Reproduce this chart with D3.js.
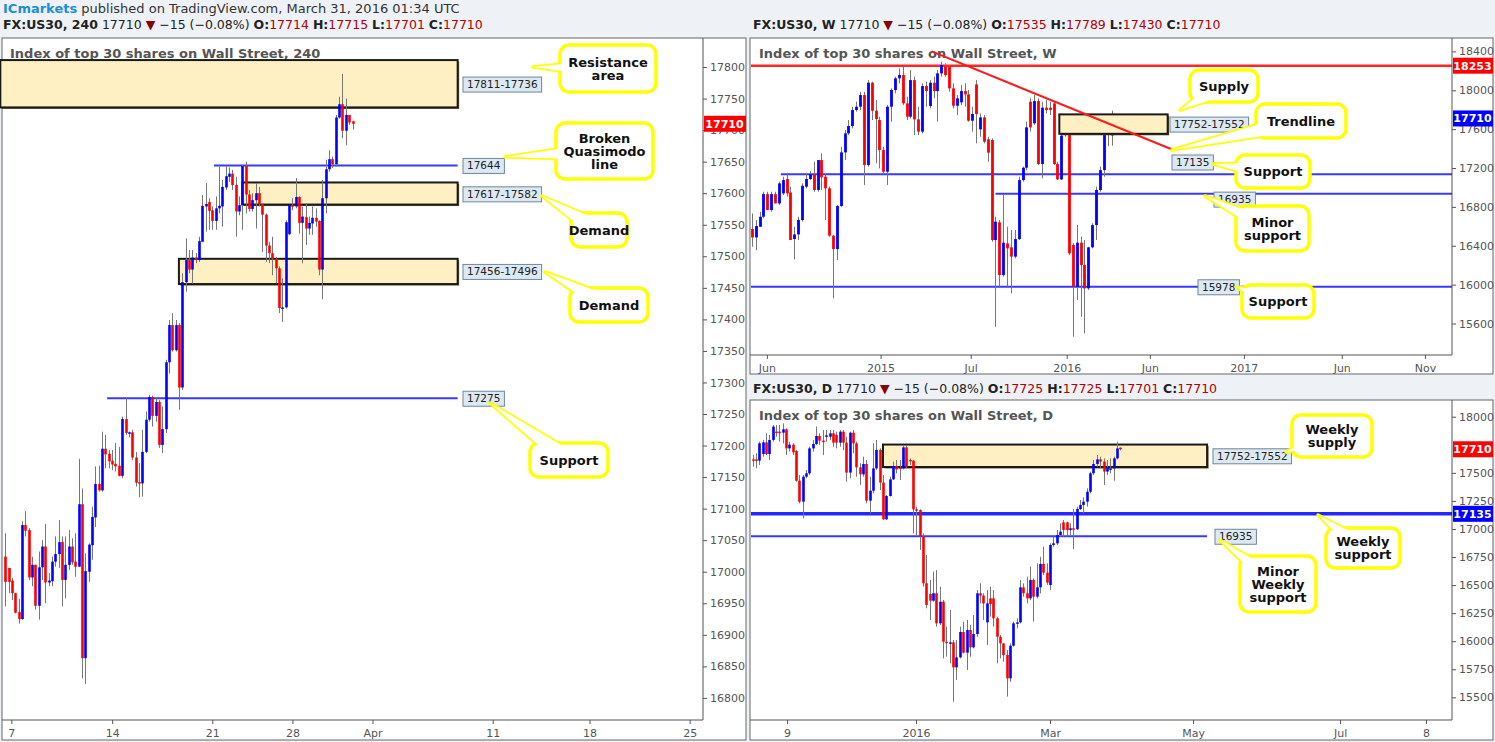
<!DOCTYPE html>
<html><head><meta charset="utf-8">
<script src="https://cdn.jsdelivr.net/npm/d3@7"></script>
<style>
body{margin:0;background:#eef2f6;font-family:"DejaVu Sans",sans-serif;}
svg text{font-family:"DejaVu Sans",sans-serif;}
</style></head>
<body><svg id="c" width="1495" height="742"></svg>
<script>
// 240 candles [open, high, low, close]
var h4Rows = [
[17024,17061,16945,16984],[17006,17006,16966,16984],[16986,16990,16955,16966],[16966,16966,16934,16935],[16936,16957,16918,16925],
[16925,17080,16924,17074],[17074,17096,17056,17065],[17066,17069,16987,16991],[16991,17024,16977,17011],[17011,17011,16940,16946],
[16946,17032,16924,17007],[17007,17050,16987,17040],[17040,17076,16950,16983],[16983,16998,16977,16986],[16985,17024,16977,17016],
[17016,17056,17008,17028],[17028,17082,17006,17047],[17047,17056,16945,16987],[16987,17056,16958,17011],[17011,17066,17003,17040],
[17040,17053,17011,17015],[17016,17061,16992,17008],[17008,17179,17008,17107],[17107,17132,16831,16863],[16863,17029,16822,17001],
[17000,17045,16984,17043],[17042,17103,17019,17087],[17086,17167,17071,17139],[17139,17168,17127,17129],[17129,17222,17127,17195],
[17195,17217,17164,17186],[17187,17193,17164,17175],[17176,17193,17161,17170],[17171,17204,17159,17167],[17168,17198,17151,17152],
[17152,17246,17148,17242],[17242,17275,17217,17220],[17220,17222,17213,17221],[17221,17225,17177,17181],[17181,17190,17135,17141],
[17142,17172,17118,17140],[17140,17225,17119,17190],[17190,17254,17188,17241],[17241,17280,17238,17277],[17277,17279,17230,17247],
[17247,17275,17238,17269],[17269,17272,17196,17201],[17201,17262,17188,17226],[17226,17336,17220,17332],[17332,17399,17314,17391],
[17391,17410,17349,17351],[17351,17399,17349,17391],[17391,17394,17257,17292],[17292,17473,17288,17459],[17459,17528,17444,17494],
[17494,17510,17473,17479],[17479,17510,17457,17498],[17498,17505,17489,17494],[17494,17531,17491,17524],[17523,17597,17523,17580],
[17579,17616,17539,17583],[17586,17592,17542,17572],[17573,17579,17542,17556],[17556,17595,17542,17576],[17576,17642,17568,17580],
[17579,17621,17547,17610],[17609,17643,17605,17627],[17626,17641,17618,17631],[17631,17637,17605,17613],[17613,17626,17531,17571],
[17571,17595,17565,17581],[17581,17645,17542,17643],[17643,17650,17568,17598],[17598,17605,17571,17575],[17575,17600,17571,17589],
[17589,17616,17544,17600],[17600,17610,17579,17583],[17583,17584,17507,17566],[17566,17568,17491,17517],[17517,17523,17489,17505],
[17505,17531,17470,17496],[17496,17499,17457,17481],[17481,17484,17410,17418],[17418,17465,17396,17419],[17419,17557,17417,17554],
[17535,17581,17534,17581],[17581,17592,17573,17579],[17579,17624,17576,17594],[17594,17595,17536,17553],[17553,17579,17489,17563],
[17562,17584,17518,17544],[17544,17563,17534,17553],[17552,17579,17534,17561],[17561,17576,17547,17555],[17556,17557,17470,17479],
[17479,17621,17432,17592],[17592,17653,17568,17638],[17638,17668,17634,17654],[17654,17658,17640,17646],[17646,17724,17642,17720],
[17720,17753,17718,17741],[17741,17789,17687,17699],[17699,17750,17676,17724],[17724,17724,17708,17712],[17714,17715,17701,17710]
];
// weekly candles
var wRows = [
[16572,16733,16390,16486],[16486,16665,16356,16603],[16596,16751,16596,16699],[16699,16956,16682,16932],[16932,16956,16768,16768],
[16768,16956,16751,16932],[16932,16956,16836,16836],[16836,17059,16819,17042],[16939,17111,16922,17076],[17087,17145,16905,16939],
[16949,17008,16459,16459],[16469,16596,16260,16517],[16517,16699,16459,16665],[16665,17042,16648,17018],[17008,17145,16991,17087],
[17087,17169,17076,17135],[17135,17265,16956,16974],[16974,17282,16956,17282],[17282,17351,16974,17104],[17111,17145,16665,16991],
[16991,17008,16493,16504],[16504,16511,15859,16366],[16366,16819,16253,16809],[16809,17419,16802,17361],[17361,17591,17282,17557],
[17557,17694,17539,17632],[17632,17831,17608,17797],[17797,17882,17780,17831],[17831,17985,17797,17951],[17951,17985,17025,17231],
[17231,18105,17214,18078],[18078,18088,17694,17790],[17790,17900,17248,17704],[17694,17728,17196,17385],[17385,17419,17145,17162],
[17162,17848,17025,17831],[17831,18020,17677,18003],[18003,18140,17968,18123],[18123,18225,18071,18157],[18157,18243,17848,17865],
[17865,17934,17694,17728],[17728,18208,17711,18105],[18105,18140,17539,17701],[17701,17831,17539,17574],[17574,18071,17557,18044],
[18044,18088,17831,17992],[17838,18105,17814,18078],[18078,18140,17917,17992],[17992,18208,17677,18174],[18174,18294,18140,18260],
[18243,18277,18140,18157],[18243,18260,17985,18020],[18020,18071,17814,17841],[17841,17951,17745,17917],[17876,18054,17848,17992],
[17992,18071,17831,17958],[17958,18003,17677,17687],[17687,17831,17574,17756],[18061,18105,17454,17756],[17598,17762,17522,17721],
[17721,17745,17454,17471],[17495,17522,17265,17358],[17488,17505,16442,16459],[16459,16699,15567,16648],[16641,16665,15979,16099],
[16099,16922,16082,16432],[16425,16596,15979,16373],[16384,16562,15910,16288],[16288,16562,16270,16469],[16469,17111,16459,17076],
[17076,17214,17059,17203],[17203,17677,17179,17618],[17882,17917,17574,17618],[17660,17951,17642,17889],[17889,17917,17231,17241],
[17241,17882,17094,17821],[17821,17900,17762,17797],[17821,17882,17745,17797],[17865,17882,17231,17241],[17241,17265,17076,17083],
[17083,17557,17076,17533],[17591,17745,17522,17539],[17598,17608,16305,16322],[16408,16426,15464,15979],[15979,16613,15842,16432],
[16432,16494,15670,16202],[16202,16459,15499,15962],[15962,16390,15945,16384],[16384,16631,16373,16613],[16613,17008,16459,16974],
[16974,17214,16956,17179],[17179,17625,17111,17584],[17584,17642,17426,17550],[17535,17789,17430,17710]
];
// daily candles
var dRows = [
[17620,17659,17555,17609],[17620,17674,17540,17609],[17609,17778,17570,17763],[17668,17793,17644,17772],[17772,17852,17659,17668],
[17668,17837,17615,17793],[17793,17926,17778,17912],[17867,17926,17822,17858],[17867,17926,17778,17858],[17858,17941,17763,17888],
[17888,17897,17659,17718],[17718,17778,17689,17751],[17751,17763,17659,17683],[17695,17704,17421,17430],[17430,17481,17228,17243],
[17243,17481,17095,17466],[17466,17525,17451,17496],[17496,17733,17481,17718],[17718,17793,17689,17757],[17757,17912,17748,17828],
[17828,17852,17748,17787],[17787,17882,17659,17784],[17822,17882,17778,17834],[17822,17882,17793,17852],[17852,17882,17733,17769],
[17837,17867,17718,17769],[17769,17882,17733,17867],[17867,17882,17704,17769],[17769,17822,17421,17502],[17502,17867,17451,17858],
[17858,17882,17674,17763],[17763,17778,17466,17549],[17549,17585,17392,17487],[17487,17644,17466,17579],[17579,17615,17228,17252],
[17252,17466,17139,17341],[17341,17763,17317,17540],[17540,17793,17525,17704],[17704,17718,17347,17413],[17413,17481,17080,17086],
[17086,17303,17080,17294],[17294,17466,17288,17442],[17442,17600,17436,17561],[17561,17615,17496,17531],[17549,17615,17436,17540],
[17540,17739,17531,17727],[17727,17739,17540,17555],[17615,17629,17570,17609],[17609,17615,16961,17175],[17175,17199,16946,17169],
[17169,17175,16813,16931],[16931,16961,16486,16516],[16516,16768,16293,16323],[16420,16545,16189,16361],[16361,16620,16352,16427],
[16427,16634,16130,16159],[16159,16486,16144,16352],[16352,16367,15847,15996],[15996,16130,15862,15990],[15990,16278,15803,15990],
[15990,16011,15461,15767],[15767,16011,15654,15856],[15856,16130,15847,16082],[16082,16174,15892,15898],[15898,16189,15743,16100],
[16100,16144,15862,15945],[15945,16233,15936,16064],[16064,16456,16040,16427],[16427,16516,16337,16406],[16406,16427,16189,16337],
[16168,16456,15966,16337],[16382,16486,16219,16331],[16382,16456,16130,16204],[16204,16219,15803,16040],[16040,16055,15847,15981],
[15981,15981,15818,15877],[15877,15922,15506,15669],[15669,15981,15639,15960],[15960,16174,15951,16159],[16159,16204,16115,16168],
[16168,16545,16159,16480],[16480,16516,16397,16427],[16427,16575,16337,16382],[16382,16664,16367,16545],[16545,16560,16174,16397],
[16397,16694,16382,16480],[16480,16753,16427,16688],[16688,16842,16590,16611],[16611,16694,16501,16522],[16501,16872,16456,16857],
[16857,16931,16842,16872],[16872,16991,16857,16946],[16946,17050,16931,16976],[17059,17080,16931,16991],[17059,17065,16931,16991],
[16991,17050,16946,17006],[17006,17178,16819,16997],[16997,17199,16991,17178],[17178,17258,17169,17214],[17214,17282,17139,17243],
[17243,17362,17199,17332],[17332,17511,17317,17496],[17496,17615,17481,17579],[17579,17659,17555,17620],[17620,17644,17540,17600],
[17600,17629,17392,17511],[17511,17615,17481,17549],[17531,17629,17496,17540],[17540,17644,17430,17629],[17629,17778,17620,17718],
[17725,17725,17701,17710]
];

var h4TickIdx = [1.8,32,62,86,110,146,175,205];
var h4TickLab = ["7","14","21","28","Apr","11","18","25"];
var wTickIdx = [3.9,33.3,56.6,81.4,102.9,127.2,152.5,174];
var wTickLab = ["Jun","2015","Jul","2016","Jun","2017","Jun","Nov"];
var dTickIdx = [10.3,48.9,89,131.8,175.8,201.5];
var dTickLab = ["9","2016","Mar","May","Jul","8"];
var h4PriceTicks = d3.range(16800, 17801, 50);
var wPriceTicks = d3.range(15600, 18401, 400);
var dPriceTicks = [15500,15750,16000,16250,16500,16750,17000,17250,17500,18000];

var svg = d3.select("#c");

// header
var hd = svg.append("text").attr("x",3).attr("y",13).attr("font-size",13).attr("fill","#333");
hd.append("tspan").attr("fill","#1e8fd0").attr("font-weight","bold").text("ICmarkets");
hd.append("tspan").text(" published on TradingView.com, March 31, 2016 01:34 UTC");

function quote(x, y, name, o, h, l, c){
  var t = svg.append("text").attr("x",x).attr("y",y).attr("font-size",12.5).attr("fill","#222");
  t.append("tspan").attr("font-weight","bold").text(name);
  t.append("tspan").text("  17710 ");
  t.append("tspan").attr("fill","#8b0000").text("\u25BC");
  t.append("tspan").text(" \u221215 (\u22120.08%)  ");
  [["O:",o],["H:",h],["L:",l],["C:",c]].forEach(function(p){
    t.append("tspan").attr("font-weight","bold").text(p[0]);
    t.append("tspan").attr("fill","#b00000").text(p[1]+" ");
  });
}
quote(3,29,"FX:US30, 240","17714","17715","17701","17710");
quote(753,29,"FX:US30, W","17535","17789","17430","17710");
quote(753,393,"FX:US30, D","17725","17725","17701","17710");

function panel(cfg){
  var g = svg.append("g");
  g.append("rect").attr("x",cfg.bx0).attr("y",cfg.by0).attr("width",cfg.bx1-cfg.bx0).attr("height",cfg.by1-cfg.by0)
    .attr("fill","#fff").attr("stroke","#666");
  var x = d3.scaleLinear().domain(cfg.xd).range([cfg.px0,cfg.px1]);
  var y = d3.scaleLinear().domain(cfg.yd).range([cfg.py1,cfg.py0]);
  g.append("line").attr("x1",cfg.px1).attr("x2",cfg.px1).attr("y1",cfg.by0).attr("y2",cfg.py1).attr("stroke","#555");
  g.append("line").attr("x1",cfg.bx0).attr("x2",cfg.px1).attr("y1",cfg.py1).attr("y2",cfg.py1).attr("stroke","#555");
  var ya = d3.axisRight(y).tickValues(cfg.yt).tickSize(4).tickFormat(d3.format("d"));
  var yg = g.append("g").attr("transform","translate("+cfg.px1+",0)").call(ya);
  yg.select(".domain").remove();
  yg.selectAll("text").attr("font-size",11).attr("fill","#555").attr("font-family","Liberation Sans, Arial");
  yg.selectAll("line").attr("stroke","#555");
  var xa = d3.axisBottom(x).tickValues(cfg.xt).tickSize(4).tickFormat(function(d,i){return cfg.xl[i];});
  var xg = g.append("g").attr("transform","translate(0,"+cfg.py1+")").call(xa);
  xg.select(".domain").remove();
  xg.selectAll("text").attr("font-size",11).attr("fill","#555").attr("font-family","Liberation Sans, Arial").attr("dy","0.9em");
  xg.selectAll("line").attr("stroke","#555");
  g.append("text").attr("x",cfg.px0+8).attr("y",cfg.by0+20).attr("font-size",13).attr("fill","#555")
    .attr("font-family","Open Sans, sans-serif").attr("font-weight","600").text(cfg.title);
  var plot = g.append("g");
  return {g:g, plot:plot, x:x, y:y, cfg:cfg};
}

function candles(p, rows, bw){
  var cg = p.plot.append("g");
  cg.selectAll("line").data(rows).enter().append("line")
    .attr("x1",function(d,i){return Math.round(p.x(i))+0.5;}).attr("x2",function(d,i){return Math.round(p.x(i))+0.5;})
    .attr("y1",function(d){return p.y(d[1]);}).attr("y2",function(d){return p.y(d[2]);})
    .attr("stroke","#777").attr("stroke-width",1);
  cg.selectAll("rect").data(rows).enter().append("rect")
    .attr("x",function(d,i){return Math.round(p.x(i))+0.5-bw/2;}).attr("width",bw)
    .attr("y",function(d){return p.y(Math.max(d[0],d[3]));})
    .attr("height",function(d){return Math.max(1.5,Math.abs(p.y(d[0])-p.y(d[3])));})
    .attr("fill",function(d){return d[3]>=d[0]?"#0000ff":"#ff0000";});
}

function zone(p, i0, i1, hi, lo){
  var x0 = p.x(i0), x1 = p.x(i1);
  p.plot.append("rect").attr("x",x0+1.5).attr("y",p.y(hi)+1.5).attr("width",x1-x0).attr("height",p.y(lo)-p.y(hi))
    .attr("fill","#6b5a2a");
  p.plot.append("rect").attr("x",x0).attr("y",p.y(hi)).attr("width",x1-x0).attr("height",p.y(lo)-p.y(hi))
    .attr("fill","#fff0c4").attr("stroke","#1a1a1a").attr("stroke-width",2);
}
function hline(p, i0, i1, v, col, w){
  p.plot.append("line").attr("x1",p.x(i0)).attr("x2",p.x(i1)).attr("y1",p.y(v)).attr("y2",p.y(v))
    .attr("stroke",col).attr("stroke-width",w).attr("stroke-opacity",0.85);
}
function tag(p, xpx, v, txt){
  var t = p.plot.append("text").attr("x",xpx+4).attr("y",p.y(v)+4).attr("font-size",10.5)
    .attr("font-family","DejaVu Sans Mono, monospace").attr("fill","#222").text(txt);
  var w = t.node().getComputedTextLength()+8;
  p.plot.insert("rect","text").attr("x",xpx).attr("y",p.y(v)-7).attr("width",w).attr("height",15)
    .attr("fill","#dde9f2").attr("stroke","#6f8798");
}
function ptag(p, v, txt, col){
  var c = p.cfg;
  p.g.append("rect").attr("x",c.px1+1).attr("y",p.y(v)-8).attr("width",c.bx1-c.px1-1).attr("height",16).attr("fill",col);
  p.g.append("text").attr("x",(c.px1+c.bx1)/2).attr("y",p.y(v)+4).attr("text-anchor","middle").attr("font-size",11)
    .attr("font-weight","bold").attr("font-family","Liberation Sans, Arial").attr("fill","#fff").text(txt);
}
function callout(bx, by, bw, bh, tx, ty, lines){
  var cx = bx+bw/2, cy = by+bh/2, dx = tx-cx, dy = ty-cy, L = Math.hypot(dx,dy);
  var nx = -dy/L*9, ny = dx/L*9;
  var pts = [[cx+nx,cy+ny],[tx,ty],[cx-nx,cy-ny]];
  var g = svg.append("g");
  g.append("polygon").attr("points",pts.join(" ")).attr("fill","#fff").attr("stroke","#ffff00").attr("stroke-width",3.5).attr("stroke-linejoin","round");
  g.append("rect").attr("x",bx).attr("y",by).attr("width",bw).attr("height",bh).attr("rx",9)
    .attr("fill","#fff").attr("stroke","#ffff00").attr("stroke-width",3.5);
  g.append("polygon").attr("points",pts.join(" ")).attr("fill","#fff");
  var lh = 13, start = cy - (lines.length-1)*lh/2 + 4.5;
  lines.forEach(function(s,i){
    g.append("text").attr("x",bx+bw/2).attr("y",start+i*lh).attr("text-anchor","middle").attr("font-size",13)
      .attr("font-weight","bold").attr("fill","#111").text(s);
  });
}

// 240 panel
var p4 = panel({bx0:2,bx1:746,by0:38,by1:740,px0:2,px1:703,py0:38,py1:720,
  xd:[-1,209],yd:[16765,17846],yt:h4PriceTicks,xt:h4TickIdx,xl:h4TickLab,
  title:"Index of top 30 shares on Wall Street, 240"});
zone(p4,-1.5,135.5,17811,17736);
zone(p4,71,135.5,17617,17582);
zone(p4,52,135.5,17496,17456);
hline(p4,62.5,135.5,17644,"#1515ff",2);
hline(p4,30.5,135.5,17275,"#1515ff",2);
candles(p4,h4Rows,2.6);
tag(p4,463,17773,"17811-17736");
tag(p4,463,17644,"17644");
tag(p4,463,17599,"17617-17582");
tag(p4,463,17476,"17456-17496");
tag(p4,463,17275,"17275");
ptag(p4,17710,"17710","#ff0000");

// weekly panel
var pw = panel({bx0:750,bx1:1493,by0:38,by1:374,px0:751,px1:1452,py0:38,py1:355,
  xd:[-0.2,181],yd:[15276,18538],yt:wPriceTicks,xt:wTickIdx,xl:wTickLab,
  title:"Index of top 30 shares on Wall Street, W"});
hline(pw,-0.2,181,18253,"#ff0000",2.5);
hline(pw,7.5,181,17135,"#1515ff",2);
hline(pw,63,181,16935,"#1515ff",2);
hline(pw,-0.2,181,15978,"#1515ff",2);
candles(pw,wRows,2.8);
zone(pw,79.5,107.5,17752,17552);
pw.plot.append("line").attr("x1",pw.x(46.5)).attr("y1",pw.y(18400)).attr("x2",pw.x(109)).attr("y2",pw.y(17385))
  .attr("stroke","#ff1a1a").attr("stroke-width",2);
tag(pw,1170,17652,"17752-17552");
tag(pw,1172,17262,"17135");
tag(pw,1214,16880,"16935");
tag(pw,1198,15978,"15978");
ptag(pw,18253,"18253","#ff0000");
ptag(pw,17710,"17710","#0000ff");

// daily panel
var pd = panel({bx0:750,bx1:1493,by0:400,by1:740,px0:751,px1:1452,py0:400,py1:720,
  xd:[-0.5,209.3],yd:[15298,18149],yt:dPriceTicks,xt:dTickIdx,xl:dTickLab,
  title:"Index of top 30 shares on Wall Street, D"});
zone(pd,39,136,17752,17552);
hline(pd,-0.5,209.3,17135,"#0000ff",3.5);
hline(pd,-0.5,136,16935,"#1515ff",2);
candles(pd,dRows,2.6);
tag(pd,1213,17652,"17752-17552");
tag(pd,1215,16935,"16935");
ptag(pd,17710,"17710","#ff0000");
ptag(pd,17135,"17135","#0000ff");

// callouts
callout(560,45,96,47,533,67,["Resistance","area"]);
callout(556,123,97,56,505,157,["Broken","Quasimodo","line"]);
callout(571,213,56,34,542,196,["Demand"]);
callout(570,288,78,34,545,272,["Demand"]);
callout(530,443,78,34,490,403,["Support"]);
callout(1190,70,68,32,1180,110,["Supply"]);
callout(1256,104,90,34,1172,150,["Trendline"]);
callout(1236,155,74,33,1213,164,["Support"]);
callout(1236,206,73,45,1205,196,["Minor","support"]);
callout(1242,285,72,33,1236,287,["Support"]);
callout(1292,415,80,42,1286,452,["Weekly","supply"]);
callout(1326,528,74,40,1318,515,["Weekly","support"]);
callout(1240,556,76,56,1220,540,["Minor","Weekly","support"]);
</script></body></html>
